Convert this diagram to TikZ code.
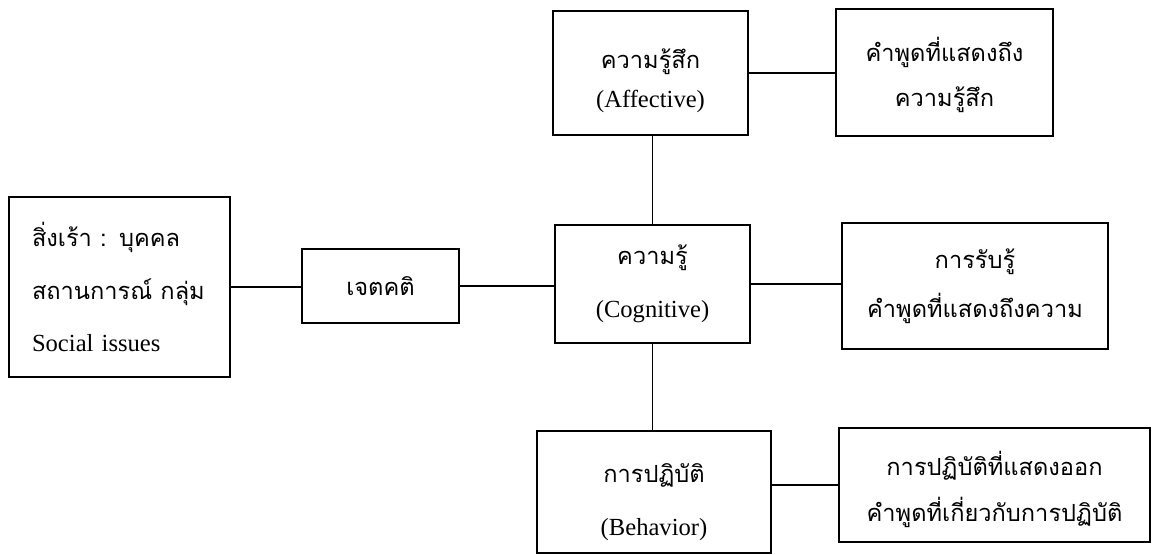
\documentclass[tikz,border=0pt]{standalone}
\usepackage{fontspec}
\setmainfont{Liberation Serif}
\newfontfamily\thaifont[Script=Thai,Scale=0.96]{Loma}
% a strut that pushes the first line of a box down
\newcommand\topgap[1]{\rule{0pt}{#1}}

\begin{document}
\begin{tikzpicture}[x=0.02cm,y=-0.02cm,line width=1.1pt,
  box/.style={draw,align=center,inner sep=0pt,font=\fontsize{14}{26}\selectfont}]
\useasboundingbox (0,0) rectangle (1155,554);
% stimulus and attitude on the left
\node[box,align=left,text width=3.5cm,inner xsep=0.46cm,minimum height=3.6cm] (stim) at (119.5,287) {{\thaifont สิ่งเร้า : บุคคล}\\[4pt]{\thaifont สถานการณ์ กลุ่ม}\\[4pt]Social issues};
\node[box,minimum width=3.14cm,minimum height=1.48cm] (att) at (380.5,286) {\thaifont เจตคติ};
% the three components
\node[box,minimum width=3.9cm,minimum height=2.48cm] (aff) at (650.5,73) {{\thaifont\topgap{20pt}ความรู้สึก}\\[-3.4pt](Affective)};
\node[box,minimum width=3.9cm,minimum height=2.36cm] (cog) at (652.5,284) {{\thaifont ความรู้}\\[4pt](Cognitive)};
\node[box,minimum width=4.68cm,minimum height=2.44cm] (beh) at (654,492) {{\thaifont\topgap{22pt}การปฏิบัติ}\\[4pt](Behavior)};
% what each component shows
\node[box,minimum width=4.34cm,minimum height=2.54cm] (affsay) at (944.5,72.5) {\thaifont\topgap{16.5pt}คำพูดที่แสดงถึง\\\thaifont ความรู้สึก};
\node[box,minimum width=5.32cm,minimum height=2.52cm] (perc) at (975,286) {\thaifont การรับรู้\\[2pt]\thaifont คำพูดที่แสดงถึงความ};
\node[box,minimum width=6.22cm,minimum height=2.28cm] (behsay) at (994.5,485) {\thaifont\topgap{19pt}การปฏิบัติที่แสดงออก\\\thaifont คำพูดที่เกี่ยวกับการปฏิบัติ};
% connectors
\draw (stim.east) -- (att.west |- stim.east);
\draw (att.east) -- (att.east -| cog.west);
\draw (cog.north) -- (cog.north |- aff.south);
\draw (cog.south) -- (cog.south |- beh.north);
\draw (aff.east) -- (aff.east -| affsay.west);
\draw (cog.east) -- (cog.east -| perc.west);
\draw (behsay.west) -- (behsay.west -| beh.east);
\end{tikzpicture}
\end{document}
